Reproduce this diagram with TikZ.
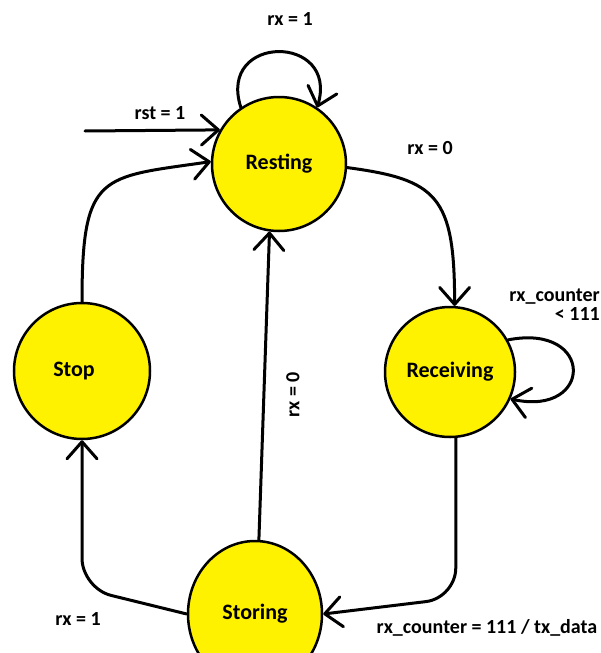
\documentclass[tikz,border=0pt]{standalone}
\usepackage{fontspec}
\setmainfont{Carlito}
\usetikzlibrary{arrows.meta,shapes.geometric,calc}
\tikzset{
  state/.style={circle, draw=black, line width=2.5pt, fill=yellow, font=\bfseries\fontsize{22}{24}\selectfont, inner sep=0pt},
  edge/.style={line width=3pt, -{Straight Barb[length=17pt, width=30pt, line width=3pt, round]}, line cap=round},
  lbl/.style={font=\bfseries\fontsize{20}{19}\selectfont, inner sep=0pt}
}
\begin{document}
\begin{tikzpicture}[x=1pt, y=-1pt]
\useasboundingbox (0,0) rectangle (601,653);
% states
\node[state, minimum size=134pt] (resting) at (279,164) {Resting};
\node[state, minimum size=130pt] (receiving) at (450,372) {Receiving};
\node[state, minimum size=136pt] (stop) at (82,371) {\hspace*{-16pt}Stop};
\node[state, ellipse, minimum width=134pt, minimum height=146pt] (storing) at (255,614) {Storing};
% reset input
\coordinate (rstin) at (85,131);
\draw[edge] (rstin) -- (resting.150);
\node[lbl] (lrst) at (160,113) {rst = 1};
% Resting self loop
\draw[edge] (resting.124) .. controls +(-24,-74) and +(22,-74) .. (resting.56);
\node[lbl] (lloop1) at (290,19) {rx = 1};
% Resting -> Receiving
\draw[edge] (resting.-3) .. controls +(90,12) and +(0,-110) .. (receiving.86);
\node[lbl] (lrx0a) at (430,148) {rx = 0};
% Receiving self loop
\draw[edge] (receiving.29) .. controls +(87,-17) and +(83,18) .. (receiving.-24);
\node[lbl, align=right, anchor=east] (lloop2) at (600,305) {rx\_counter\\< 111};
% Receiving -> Storing
\draw[edge, rounded corners=30pt] (receiving.-85) -- ++(0,160) -- (storing.east);
\node[lbl] (lrxc) at (487,628) {rx\_counter = 111 / tx\_data};
% Storing -> Stop
\draw[edge, rounded corners=30pt] (storing.west) -- ($(stop.south)+(0,148)$) -- (stop.south);
\node[lbl] (lrx1) at (78,619) {rx = 1};
% Storing -> Resting
\draw[edge] (storing.87) -- (resting.-98);
\node[lbl, rotate=90] (lrx0b) at (293,395) {rx = 0};
% Stop -> Resting
\draw[edge] (stop.north) .. controls +(0,-130) and +(-110,16) .. (resting.178);
\end{tikzpicture}
\end{document}
